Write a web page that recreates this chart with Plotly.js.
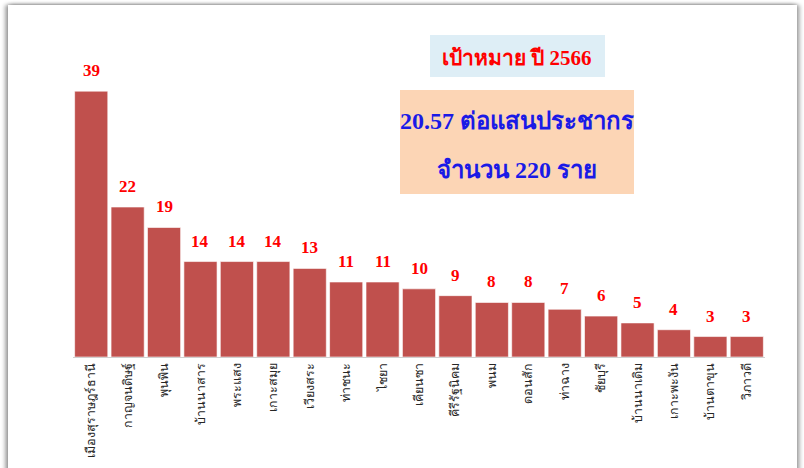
<!DOCTYPE html>
<html>
<head>
<meta charset="utf-8">
<script src="https://cdn.plot.ly/plotly-3.0.1.min.js"></script>
<style>
  html, body { margin:0; padding:0; background:#ffffff; width:804px; height:468px; overflow:hidden; }
  #frame { position:absolute; left:8px; top:5px; width:789px; height:480px; background:#fff;
           box-shadow: -3px 0 4px rgba(0,0,0,0.35), 3px 0 4px rgba(0,0,0,0.30), 0 -1px 3px rgba(0,0,0,0.15); }
  #chart { position:absolute; left:0; top:0; width:804px; height:468px; }
</style>
</head>
<body>
<div id="frame"></div>
<div id="chart"></div>
<script>
const districts = ["เมืองสุราษฎร์ธานี","กาญจนดิษฐ์","พุนพิน","บ้านนาสาร","พระแสง","เกาะสมุย","เวียงสระ","ท่าชนะ","ไชยา","เคียนซา","คีรีรัฐนิคม","พนม","ดอนสัก","ท่าฉาง","ชัยบุรี","บ้านนาเดิม","เกาะพะงัน","บ้านตาขุน","วิภาวดี"];
const cases = [39,22,19,14,14,14,13,11,11,10,9,8,8,7,6,5,4,3,3];
const targetTitle = "เป้าหมาย ปี 2566";
const targetRate = "20.57 ต่อแสนประชากร";
const targetCount = "จำนวน 220 ราย";

const trace = {
  type: 'bar',
  x: districts,
  y: cases,
  marker: { color: '#C0504D', line: { color: 'rgba(255,255,255,0.6)', width: 1 } },
  hoverinfo: 'x+y'
};

const valueAnns = districts.map((d, i) => ({
  x: d, y: cases[i], xref: 'x', yref: 'y',
  text: String(cases[i]), showarrow: false, yanchor: 'bottom', yshift: 9,
  font: { family: 'Liberation Serif, Times New Roman, serif', size: 17, color: '#FF0000', weight: 'bold' }
}));

const boxFont = 'Liberation Serif, Times New Roman, Noto Sans, serif';
const anns = valueAnns.concat([
  { xref:'paper', yref:'paper', x:(517-73)/692, y:(357-56)/317, yshift: 12, text:'<b>'+targetTitle+'</b>', showarrow:false,
    font:{ family: boxFont, size: 21, color:'#FF0000' } },
  { xref:'paper', yref:'paper', x:(517-73)/692, y:(357-120)/317, yshift: 14, text:'<b>'+targetRate+'</b>', showarrow:false,
    font:{ family: boxFont, size: 24, color:'#1A1AE6' } },
  { xref:'paper', yref:'paper', x:(517-73)/692, y:(357-168)/317, yshift: -2, text:'<b>'+targetCount+'</b>', showarrow:false,
    font:{ family: boxFont, size: 24, color:'#1A1AE6' } }
]);

const px = v => (v-73)/692;
const py = v => (357-v)/317;

const layout = {
  width: 804, height: 468,
  margin: { l: 73, r: 39, t: 40, b: 111 },
  paper_bgcolor: 'rgba(0,0,0,0)',
  plot_bgcolor: 'rgba(0,0,0,0)',
  showlegend: false,
  bargap: 0.09,
  xaxis: {
    type: 'category', tickangle: -90, showgrid: false, zeroline: false,
    showline: true, linecolor: '#D0D0D0', linewidth: 1, ticks: '',
    tickfont: { family: 'Noto Sans, DejaVu Sans, sans-serif', size: 12.5, color: '#262626' },
    automargin: false
  },
  yaxis: { range: [0, 46.5], visible: false, showgrid: false, zeroline: false },
  shapes: [
    { type:'rect', xref:'paper', yref:'paper', x0:px(430), x1:px(605), y0:py(77), y1:py(35),
      fillcolor:'#DEEEF6', line:{ width:0 }, layer:'below' },
    { type:'rect', xref:'paper', yref:'paper', x0:px(400), x1:px(634), y0:py(194), y1:py(90),
      fillcolor:'#FCD5B5', line:{ width:0 }, layer:'below' }
  ],
  annotations: anns
};

Plotly.newPlot('chart', [trace], layout, { displayModeBar: false, staticPlot: true });
</script>
</body>
</html>
